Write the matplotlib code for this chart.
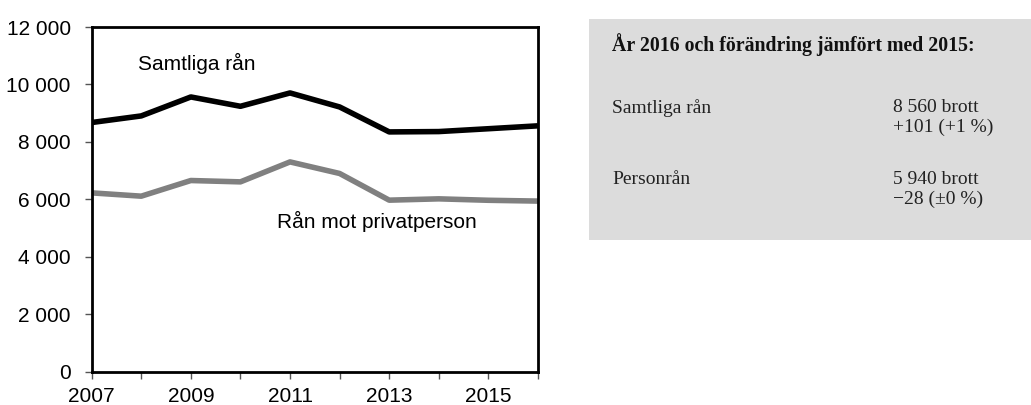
import matplotlib
matplotlib.use('Agg')
import matplotlib.pyplot as plt
from matplotlib.patches import Rectangle
from matplotlib.ticker import FuncFormatter

years = [2007, 2008, 2009, 2010, 2011, 2012, 2013, 2014, 2015, 2016]
samtliga = [8675, 8905, 9565, 9240, 9705, 9217, 8348, 8360, 8459, 8560]
privatperson = [6226, 6111, 6656, 6609, 7304, 6901, 5972, 6018, 5968, 5940]

year_labels = [2007, 2009, 2011, 2013, 2015]
y_ticks = [0, 2000, 4000, 6000, 8000, 10000, 12000]

box_title = 'År 2016 och förändring jämfört med 2015:'
box_rows = [
    ('Samtliga rån', '8 560 brott', '+101 (+1 %)'),
    ('Personrån', '5 940 brott', '\u221228 (\u00b10 %)'),
]


def thousands(v, pos):
    return f'{int(v):,}'.replace(',', ' ')


def main():
    plt.rcParams['font.family'] = ['Liberation Sans', 'DejaVu Sans']
    fig = plt.figure(figsize=(10.31, 4.05), dpi=100)

    # Line chart
    ax = fig.add_axes([0.0889, 0.0822, 0.4329, 0.8511])
    ax.plot(years, samtliga, color='black', lw=4, solid_capstyle='butt')
    ax.plot(years, privatperson, color='#808080', lw=4, solid_capstyle='butt')

    ax.set_xlim(2007, 2016)
    ax.set_ylim(0, 12000)
    ax.set_yticks(y_ticks)
    ax.yaxis.set_major_formatter(FuncFormatter(thousands))
    ax.set_xticks(years)
    ax.set_xticklabels([str(y) if y in year_labels else '' for y in years])
    ax.tick_params(axis='both', labelsize=15, length=5, width=1,
                   color='#555555')
    ax.tick_params(axis='y', pad=10)
    ax.tick_params(axis='x', pad=6)
    for s in ax.spines.values():
        s.set_linewidth(2)

    ax.text(2007.93, 10737, 'Samtliga rån', fontsize=15, va='center')
    ax.text(2010.74, 5217, 'Rån mot privatperson', fontsize=15, va='center')

    # Info box
    fig.patches.append(Rectangle((0.5713, 0.4074), 0.4287, 0.5457,
                                 transform=fig.transFigure,
                                 facecolor='#dcdcdc', edgecolor='none'))
    serif = ['Liberation Serif', 'DejaVu Serif']
    fig.text(612 / 1031, 1 - 45 / 405, box_title, family=serif,
             fontsize=14.3, weight='bold', va='center', color='#111111')
    row_y = [108, 180]
    for (name, count, change), y in zip(box_rows, row_y):
        fig.text(612 / 1031, 1 - y / 405, name, family=serif,
                 fontsize=14, va='center', color='#222222')
        fig.text(893 / 1031, 1 - y / 405, count, family=serif,
                 fontsize=14, va='center', color='#222222')
        fig.text(893 / 1031, 1 - (y + 19.5) / 405, change, family=serif,
                 fontsize=14, va='center', color='#222222')

    fig.savefig('out.png', dpi=100)


if __name__ == '__main__':
    main()
